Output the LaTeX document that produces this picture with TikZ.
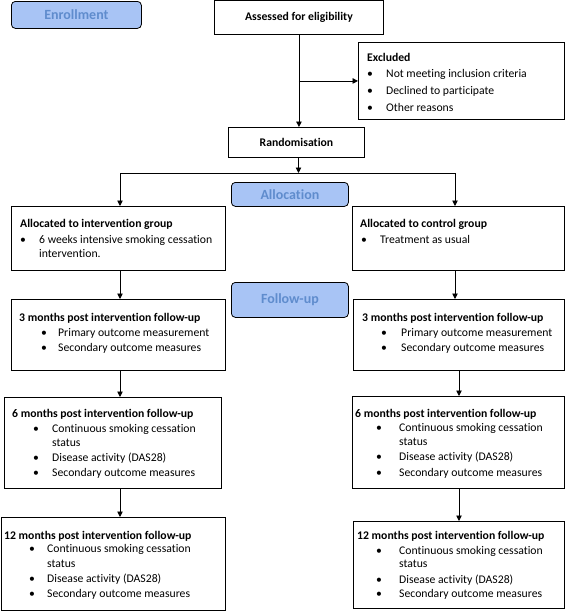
\documentclass[tikz,border=0pt]{standalone}
\usepackage{fontspec}
\setmainfont{Carlito}[Ligatures={NoCommon}]
\usetikzlibrary{arrows.meta}
\definecolor{lblfill}{RGB}{168,196,245}
\definecolor{lbltext}{RGB}{95,140,205}
\newcommand\bx[5]{\node[box, minimum width={#4-#2}, minimum height={#5-#3}] (#1) at (#2,#3) {};}
\newcommand\ttl[4]{\node[txt, font=\fontsize{11.7}{14}\selectfont\bfseries] (#1) at (#2,#3) {#4};}
\newcommand\bli[5]{\node[bul] (#1d) at (#2,#4) {\textbullet}; \node[txt] (#1) at (#3,#4) {#5};}
\newcommand\cont[3]{\node[txt] (#1) at (#2,#3) {status};}
\begin{document}
\begin{tikzpicture}[x=1pt,y=-1pt,
  font=\fontsize{11.7}{14}\selectfont,
  box/.style={draw, line width=0.9pt, inner sep=0pt, anchor=north west},
  lbl/.style={draw, line width=0.8pt, rounded corners=4pt, fill=lblfill, text=lbltext,
    font=\fontsize{14}{16}\selectfont\bfseries, inner sep=0pt, anchor=north west},
  txt/.style={inner sep=0pt, anchor=base west},
  bul/.style={inner sep=0pt, anchor=base},
  arr/.style={-{Triangle[length=5.5pt,width=5.5pt]}, line width=0.9pt},
  ln/.style={line width=0.9pt}]
\useasboundingbox (0,0) rectangle (567,611);

% phase labels
\node[lbl, minimum width=130, minimum height=27] (enr) at (11,1) {Enrollment};
\node[lbl, minimum width=117, minimum height=24] (allocl) at (231,182) {Allocation};
\node[lbl, minimum width=117, minimum height=35] (follow) at (231,282) {Follow-up};

% top boxes
\node[box, minimum width=169, minimum height=34, font=\fontsize{11.7}{14}\selectfont\bfseries] (assess) at (214,0) {Assessed for eligibility};
\node[box, minimum width=136, minimum height=30, font=\fontsize{11.7}{14}\selectfont\bfseries] (rand) at (228,127) {Randomisation};
\bx{excl}{358}{42}{564}{119}

% group boxes
\bx{lalloc}{11}{206}{225}{270}
\bx{ralloc}{352}{206}{564}{270}
\bx{lthree}{11}{299}{225}{370}
\bx{rthree}{353}{299}{564}{370}
\bx{lsix}{4}{397}{221}{488}
\bx{rsix}{352}{396}{564}{488}
\bx{ltwelve}{1}{517}{225}{610}
\bx{rtwelve}{353}{521}{564}{608}

% Excluded text
\ttl{exT}{367}{61}{Excluded}
\bli{exA}{370}{386}{77.5}{Not meeting inclusion criteria}
\bli{exB}{370}{386}{94.5}{Declined to participate}
\bli{exC}{370}{386}{111.5}{Other reasons}

% allocation texts
\ttl{laT}{20}{227}{Allocated to intervention group}
\bli{laA}{23}{39}{243}{6 weeks intensive smoking cessation}
\node[txt] (laB) at (39,257.5) {intervention.};
\ttl{raT}{360}{227}{Allocated to control group}
\bli{raA}{364}{380}{243}{Treatment as usual}

% 3 months
\ttl{l3T}{19}{321}{3 months post intervention follow-up}
\bli{l3A}{44}{58}{336}{Primary outcome measurement}
\bli{l3B}{44}{58}{351}{Secondary outcome measures}
\ttl{r3T}{362}{321}{3 months post intervention follow-up}
\bli{r3A}{384}{401}{336}{Primary outcome measurement}
\bli{r3B}{384}{401}{351}{Secondary outcome measures}

% 6 months
\ttl{l6T}{12}{417}{6 months post intervention follow-up}
\bli{l6A}{36}{52}{432}{Continuous smoking cessation}
\cont{l6S}{52}{446}
\bli{l6B}{36}{52}{461}{Disease activity (DAS28)}
\bli{l6C}{36}{52}{476}{Secondary outcome measures}
\ttl{r6T}{355}{417}{6 months post intervention follow-up}
\bli{r6A}{379}{399}{431}{Continuous smoking cessation}
\cont{r6S}{399}{445}
\bli{r6B}{379}{399}{460}{Disease activity (DAS28)}
\bli{r6C}{379}{399}{476}{Secondary outcome measures}

% 12 months
\ttl{l12T}{4}{539}{12 months post intervention follow-up}
\bli{l12A}{32}{47}{552}{Continuous smoking cessation}
\cont{l12S}{47}{567}
\bli{l12B}{32}{47}{582}{Disease activity (DAS28)}
\bli{l12C}{32}{47}{597}{Secondary outcome measures}
\ttl{r12T}{357}{539}{12 months post intervention follow-up}
\bli{r12A}{379}{399}{554}{Continuous smoking cessation}
\cont{r12S}{399}{567}
\bli{r12B}{379}{399}{583}{Disease activity (DAS28)}
\bli{r12C}{379}{399}{597}{Secondary outcome measures}

% connectors
\draw[arr] (assess.south) -- (assess.south |- rand.north);
\coordinate (exj) at (assess.south |- excl.west);
\draw[arr] (exj) -- (excl.west);
\coordinate (split) at (298.5,173);
\coordinate (spL) at (120,173);
\coordinate (spR) at (455,173);
\draw[arr] (split |- rand.south) -- (split);
\draw[ln] (spL) -- (spR);
\draw[arr] (spL) -- (spL |- lalloc.north);
\draw[arr] (spR) -- (spR |- ralloc.north);
\coordinate (cL) at (120,0);
\coordinate (cR) at (455,0);
\coordinate (cRb) at (459,0);
\draw[arr] (cL |- lalloc.south) -- (cL |- lthree.north);
\draw[arr] (cL |- lthree.south) -- (cL |- lsix.north);
\draw[arr] (cL |- lsix.south) -- (cL |- ltwelve.north);
\draw[arr] (cR |- ralloc.south) -- (cR |- rthree.north);
\draw[arr] (cRb |- rthree.south) -- (cRb |- rsix.north);
\draw[arr] (cRb |- rsix.south) -- (cRb |- rtwelve.north);
\end{tikzpicture}
\end{document}
